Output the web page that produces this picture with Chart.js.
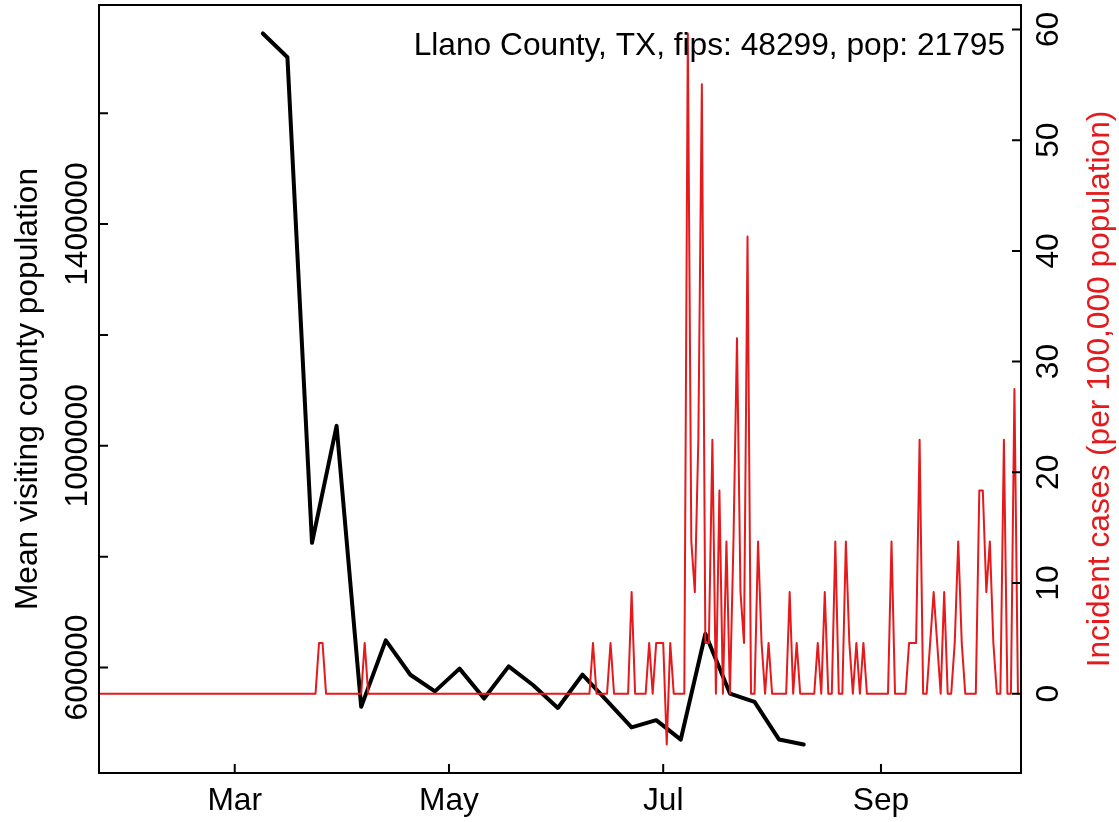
<!DOCTYPE html>
<html>
<head>
<meta charset="utf-8">
<script src="https://cdn.jsdelivr.net/npm/chart.js@4/dist/chart.umd.min.js"></script>
<style>
  html, body { margin: 0; padding: 0; background: #ffffff; }
  #wrap { width: 1119px; height: 822px; }
  canvas { display: block; }
</style>
</head>
<body>
<div id="wrap"><canvas id="c" width="1119" height="822"></canvas></div>
<script>
// ---------------- data ----------------
const mobilityDates = [
  '2020-03-09','2020-03-16','2020-03-23','2020-03-30','2020-04-06','2020-04-13',
  '2020-04-20','2020-04-27','2020-05-04','2020-05-11','2020-05-18','2020-05-25',
  '2020-06-01','2020-06-08','2020-06-15','2020-06-22','2020-06-29','2020-07-06',
  '2020-07-13','2020-07-20','2020-07-27','2020-08-03','2020-08-10'
];
const mobilityValues = [
  1744000, 1701000, 825000, 1036000, 529000, 649000,
  587000, 557000, 598000, 544000, 602000, 568000,
  527000, 587000, 540000, 492000, 505000, 470000,
  661000, 553000, 538000, 470000, 461000
];

// daily incident cases per 100,000 population, starting 2020-01-22
const caseStartDate = '2020-01-22';
const caseValues = [
  0,0,0,0,0,0,0,0,0,0,                 // Jan 22 - Jan 31
  0,0,0,0,0,0,0,0,0,0,                 // Feb 1 - Feb 10
  0,0,0,0,0,0,0,0,0,0,                 // Feb 11 - Feb 20
  0,0,0,0,0,0,0,0,0,0,                 // Feb 21 - Mar 1
  0,0,0,0,0,0,0,0,0,0,                 // Mar 2 - Mar 11
  0,0,0,0,0,0,0,0,0,0,                 // Mar 12 - Mar 21
  0,0,0,4.59,4.59,0,0,0,0,0,           // Mar 22 - Mar 31
  0,0,0,0,0,0,4.59,0,0,0,              // Apr 1 - Apr 10
  0,0,0,0,0,0,0,0,0,0,                 // Apr 11 - Apr 20
  0,0,0,0,0,0,0,0,0,0,                 // Apr 21 - Apr 30
  0,0,0,0,0,0,0,0,0,0,                 // May 1 - May 10
  0,0,0,0,0,0,0,0,0,0,                 // May 11 - May 20
  0,0,0,0,0,0,0,0,0,0,                 // May 21 - May 30
  0,0,0,0,0,0,0,0,0,0,                 // May 31 - Jun 9
  0,4.59,0,0,0,0,4.59,0,0,0,           // Jun 10 - Jun 19
  0,0,9.18,0,0,0,0,4.59,0,4.59,        // Jun 20 - Jun 29
  4.59,4.59,-4.59,4.59,0,0,0,0,59.64,13.76,      // Jun 30 - Jul 9
  9.18,22.94,55.06,4.59,4.59,22.94,0,18.35,0,13.76, // Jul 10 - Jul 19
  0,13.76,32.12,9.18,4.59,41.29,0,0,13.76,4.59,  // Jul 20 - Jul 29
  0,4.59,0,0,0,0,0,9.18,0,4.59,        // Jul 30 - Aug 8
  0,0,0,0,0,4.59,0,9.18,0,0,           // Aug 9 - Aug 18
  13.76,0,0,13.76,4.59,0,4.59,0,4.59,0, // Aug 19 - Aug 28
  0,0,0,0,0,0,13.76,0,0,0,             // Aug 29 - Sep 7
  0,4.59,4.59,4.59,22.94,0,0,4.59,9.18,4.59, // Sep 8 - Sep 17
  0,9.18,0,0,4.59,13.76,4.59,0,0,0,    // Sep 18 - Sep 27
  0,18.35,18.35,9.18,13.76,4.59,0,0,22.94,0, // Sep 28 - Oct 7
  0,27.53,0                            // Oct 8 - Oct 10
];

const xTickDates = ['2020-03-01','2020-05-01','2020-07-01','2020-09-01'];
const xTickLabels = ['Mar','May','Jul','Sep'];
const leftTickValues = [600000, 800000, 1000000, 1200000, 1400000, 1600000];
const leftTickLabels = ['600000', '', '1000000', '', '1400000', ''];
const rightTickValues = [0, 10, 20, 30, 40, 50, 60];
const rightTickLabels = ['0', '10', '20', '30', '40', '50', '60'];

const leftTitle = 'Mean visiting county population';
const rightTitle = 'Incident cases (per 100,000 population)';
const annotation = 'Llano County, TX, fips: 48299, pop: 21795';

// ---------------- helpers ----------------
const DAY = 86400000;
const dayNum = s => Date.parse(s + 'T00:00:00Z') / DAY;
const caseDates = caseValues.map((_, i) => new Date((dayNum(caseStartDate) + i) * DAY).toISOString().slice(0, 10));

const RED = '#E41A1C';
const FONT = '31.7px "Liberation Sans", Arial, Helvetica, sans-serif';

const mar1 = dayNum('2020-03-01');
const xMin = mar1 - 38.65;
const xMax = mar1 + 223.87;

const axesPlugin = {
  id: 'baseAxes',
  afterDraw(chart) {
    const { ctx, chartArea: a, scales } = chart;
    const sx = scales.x, yl = scales.yL, yr = scales.yR;
    ctx.save();
    // box
    ctx.strokeStyle = '#000';
    ctx.lineWidth = 2;
    ctx.strokeRect(a.left, a.top, a.right - a.left, a.bottom - a.top);
    // inward ticks
    const T = 9;
    ctx.beginPath();
    xTickDates.forEach(d => {
      const px = sx.getPixelForValue(dayNum(d));
      ctx.moveTo(px, a.bottom); ctx.lineTo(px, a.bottom - T);
    });
    leftTickValues.forEach(v => {
      const py = yl.getPixelForValue(v);
      ctx.moveTo(a.left, py); ctx.lineTo(a.left + T, py);
    });
    rightTickValues.forEach(v => {
      const py = yr.getPixelForValue(v);
      ctx.moveTo(a.right, py); ctx.lineTo(a.right - T, py);
    });
    ctx.stroke();

    ctx.font = FONT;
    ctx.fillStyle = '#000';
    ctx.textBaseline = 'alphabetic';
    ctx.textAlign = 'center';
    xTickDates.forEach((d, i) => {
      ctx.fillText(xTickLabels[i], sx.getPixelForValue(dayNum(d)), a.bottom + 37);
    });

    const rot = (txt, bx, cy, color) => {
      ctx.save();
      ctx.translate(bx, cy);
      ctx.rotate(-Math.PI / 2);
      ctx.textAlign = 'center';
      ctx.textBaseline = 'alphabetic';
      ctx.fillStyle = color;
      ctx.fillText(txt, 0, 0);
      ctx.restore();
    };
    leftTickValues.forEach((v, i) => {
      if (leftTickLabels[i]) rot(leftTickLabels[i], a.left - 12, yl.getPixelForValue(v), '#000');
    });
    rightTickValues.forEach((v, i) => {
      rot(rightTickLabels[i], a.right + 37, yr.getPixelForValue(v), '#000');
    });
    const cy = (a.top + a.bottom) / 2;
    rot(leftTitle, a.left - 62.5, cy, '#000');
    rot(rightTitle, a.right + 87.5, cy, RED);

    ctx.textAlign = 'right';
    ctx.fillStyle = '#000';
    ctx.fillText(annotation, a.right - 16, a.top + 50);
    ctx.restore();
  }
};

new Chart(document.getElementById('c'), {
  type: 'line',
  data: {
    datasets: [
      {
        label: 'Incident cases',
        data: caseDates.map((d, i) => ({ x: dayNum(d), y: caseValues[i] })),
        yAxisID: 'yR',
        borderColor: RED,
        borderWidth: 2,
        borderJoinStyle: 'round',
        borderCapStyle: 'round',
        pointRadius: 0,
        fill: false,
        tension: 0,
        clip: 0,
        order: 0
      },
      {
        label: 'Mean visiting county population',
        data: mobilityDates.map((d, i) => ({ x: dayNum(d), y: mobilityValues[i] })),
        yAxisID: 'yL',
        borderColor: '#000000',
        borderWidth: 4,
        borderJoinStyle: 'round',
        borderCapStyle: 'round',
        pointRadius: 0,
        fill: false,
        tension: 0,
        clip: 0,
        order: 1
      }
    ]
  },
  options: {
    responsive: false,
    animation: false,
    devicePixelRatio: 1,
    layout: { padding: { left: 99, top: 5, right: 98, bottom: 49 } },
    plugins: { legend: { display: false }, tooltip: { enabled: false } },
    events: [],
    scales: {
      x: { type: 'linear', display: false, min: xMin, max: xMax },
      yL: { type: 'linear', display: false, position: 'left', min: 409680, max: 1795320 },
      yR: { type: 'linear', display: false, position: 'right', min: -7.159, max: 62.21 }
    }
  },
  plugins: [axesPlugin]
});
</script>
</body>
</html>
